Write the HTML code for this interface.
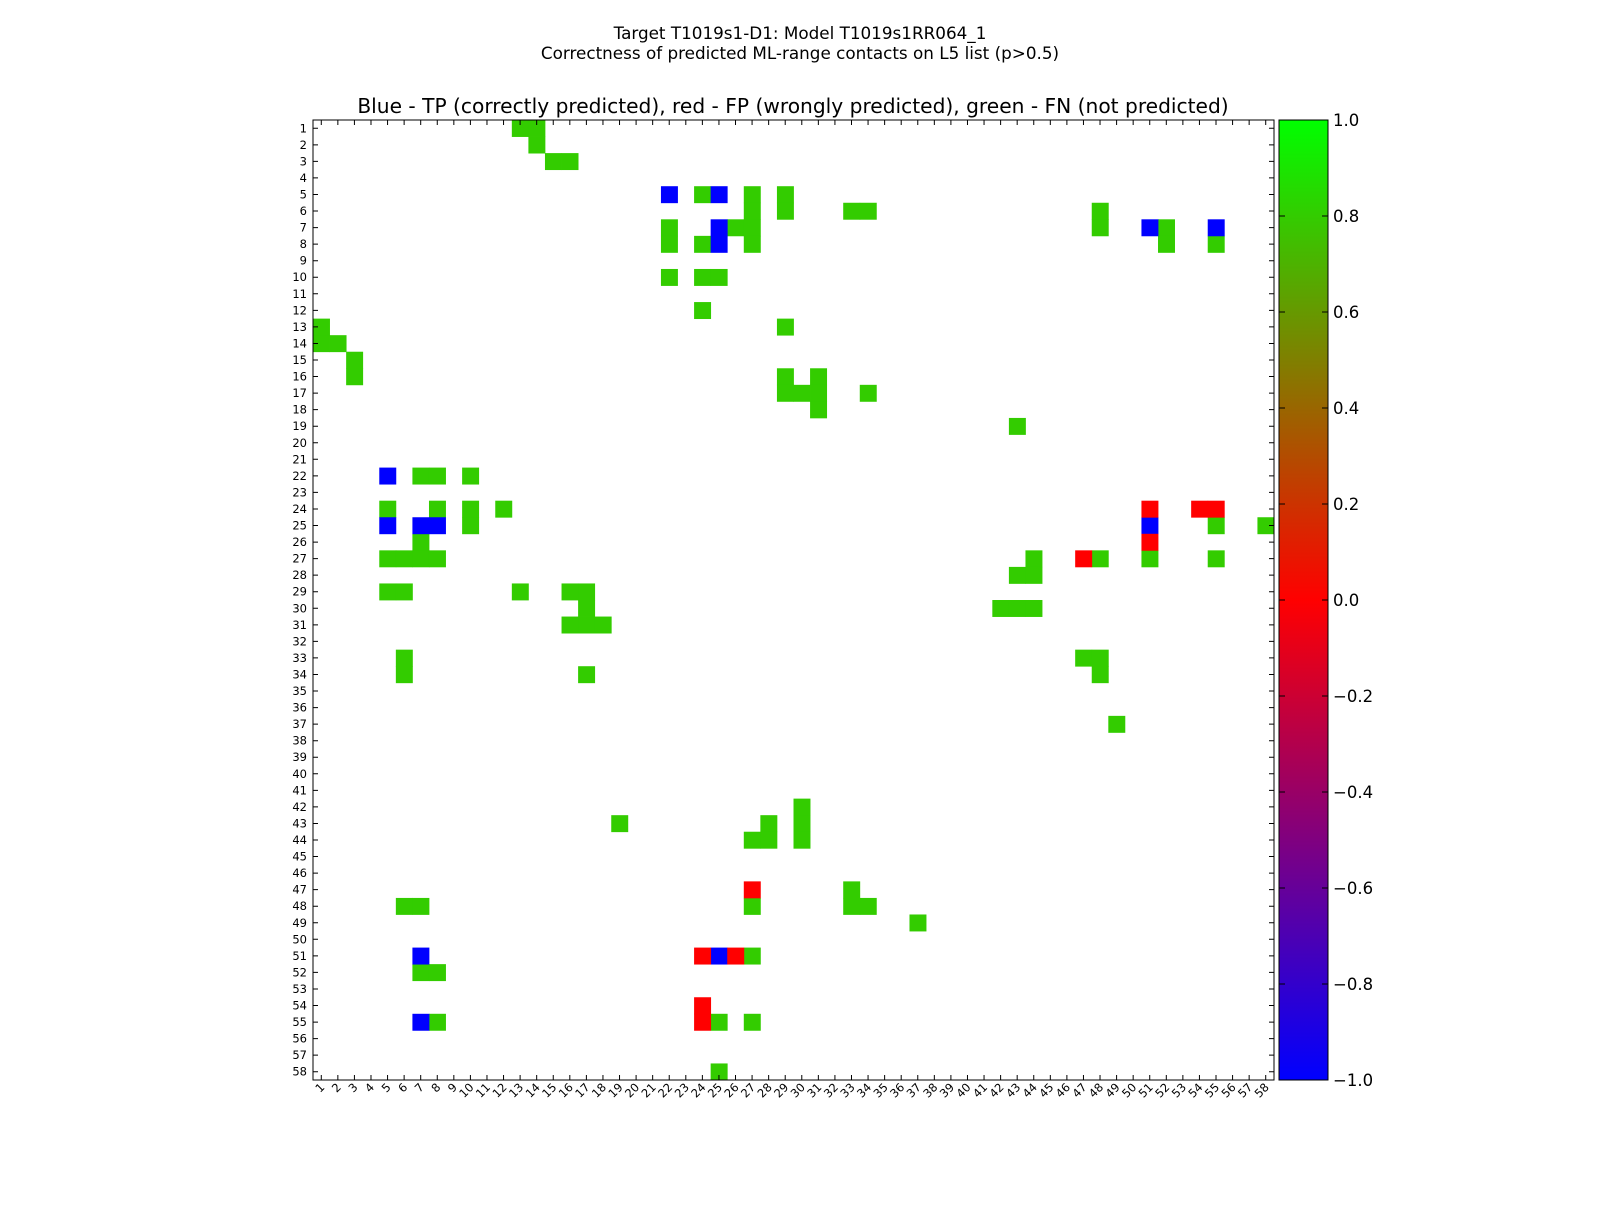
<!DOCTYPE html>
<html><head><meta charset="utf-8">
<style>
body{margin:0;background:#fff;}
svg text{font-family:"DejaVu Sans","Liberation Sans",sans-serif;}
</style></head>
<body>
<svg id="chart" width="1600" height="1200" xmlns="http://www.w3.org/2000/svg">
<defs>
<linearGradient id="cbg" x1="0" y1="1" x2="0" y2="0">
<stop offset="0" stop-color="#0000ff"/>
<stop offset="0.5" stop-color="#ff0000"/>
<stop offset="1" stop-color="#00ff00"/>
</linearGradient>
</defs>
<rect width="1600" height="1200" fill="#fff"/>
<text x="800" y="39" font-size="16.8" text-anchor="middle">Target T1019s1-D1: Model T1019s1RR064_1</text>
<text x="800" y="59" font-size="16.8" text-anchor="middle">Correctness of predicted ML-range contacts on L5 list (p&gt;0.5)</text>
<text x="793" y="113" font-size="20.2" text-anchor="middle">Blue - TP (correctly predicted), red - FP (wrongly predicted), green - FN (not predicted)</text>
<g id="cells"></g>
<g id="axes"></g>
<rect x="1279" y="120" width="49" height="960" fill="url(#cbg)" stroke="#000" stroke-width="1"/>
<g id="cbticks"></g>
</svg>
<script>
const N = 58;
const tpCells = [[5,22],[5,25],[7,25],[8,25],[7,51],[7,55],[22,5],[25,5],[25,7],[25,8],[25,51],[51,7],[51,25],[55,7]];
const fpCells = [[24,51],[26,51],[24,54],[24,55],[27,47],[47,27],[51,24],[51,26],[54,24],[55,24]];
const fnCells = [[1,13],[1,14],[2,14],[3,15],[3,16],[5,24],[5,27],[5,29],[6,27],[6,29],[6,33],[6,34],[6,48],
[7,22],[7,26],[7,27],[7,48],[7,52],[8,22],[8,24],[8,27],[8,52],[8,55],[10,22],[10,24],[10,25],[12,24],
[13,1],[13,29],[14,1],[14,2],[15,3],[16,3],[16,29],[16,31],[17,29],[17,30],[17,31],[17,34],[18,31],[19,43],
[22,7],[22,8],[22,10],[24,5],[24,8],[24,10],[24,12],[25,10],[25,55],[25,58],[26,7],
[27,5],[27,6],[27,7],[27,8],[27,44],[27,48],[27,51],[27,55],[28,43],[28,44],
[29,5],[29,6],[29,13],[29,16],[29,17],[30,17],[30,42],[30,43],[30,44],[31,16],[31,17],[31,18],
[33,6],[33,47],[33,48],[34,6],[34,17],[34,48],[37,49],[42,30],[43,19],[43,28],[43,30],[44,27],[44,28],[44,30],
[47,33],[48,6],[48,7],[48,27],[48,33],[48,34],[49,37],[51,27],[52,7],[52,8],[55,8],[55,25],[55,27],[58,25]];
const cbTicks = [1.0,0.8,0.6,0.4,0.2,0.0,-0.2,-0.4,-0.6,-0.8,-1.0];

const X0=313, X1=1274, Y0=120, Y1=1080;
const cw=(X1-X0)/N, ch=(Y1-Y0)/N;
const xs = c => X0+(c-1)*cw;
const ys = r => Y0+(r-1)*ch;
const cbY = v => Y0+(1-v)/2*(Y1-Y0);
function color(v){
  const t=(v+1)/2; let r,g,b;
  if(t<=0.5){r=t*2;g=0;b=1-t*2;} else {r=1-(t-0.5)*2;g=(t-0.5)*2;b=0;}
  return `rgb(${Math.round(r*255)},${Math.round(g*255)},${Math.round(b*255)})`;
}
const NS="http://www.w3.org/2000/svg";
const cells=document.getElementById('cells');
function addCells(arr,v,name){
  arr.forEach(([r,c])=>{
    const e=document.createElementNS(NS,'rect');
    e.setAttribute('x',xs(c));e.setAttribute('y',ys(r));
    e.setAttribute('width',cw+0.4);e.setAttribute('height',ch+0.4);
    e.setAttribute('fill',color(v));
    
    
    cells.appendChild(e);
  });
}
addCells(fnCells,0.8,'cell-fn');
addCells(tpCells,-1,'cell-tp');
addCells(fpCells,0,'cell-fp');

const axes=document.getElementById('axes');
const frame=document.createElementNS(NS,'rect');
frame.setAttribute('x',X0);frame.setAttribute('y',Y0);frame.setAttribute('width',X1-X0);frame.setAttribute('height',Y1-Y0);
frame.setAttribute('fill','none');frame.setAttribute('stroke','#000');


axes.appendChild(frame);
let tk='';
for(let i=1;i<=N;i++){
  const cx=xs(i)+cw/2, cy=ys(i)+ch/2;
  tk+=`M${X0} ${cy}h5M${X1} ${cy}h-5M${cx} ${Y0}v5M${cx} ${Y1}v-5`;
  const ty=document.createElementNS(NS,'text');
  ty.setAttribute('x',X0-6);ty.setAttribute('y',cy+4);ty.setAttribute('font-size','11.5');ty.setAttribute('text-anchor','end');
  ty.textContent=i;
  
  
  axes.appendChild(ty);
  const tx=document.createElementNS(NS,'text');
  tx.setAttribute('font-size','11.5');tx.setAttribute('text-anchor','end');
  tx.setAttribute('transform',`translate(${cx+4},${Y1+8}) rotate(-45)`);
  tx.textContent=i;
  
  
  axes.appendChild(tx);
}
const tp=document.createElementNS(NS,'path');
tp.setAttribute('d',tk);tp.setAttribute('stroke','#000');tp.setAttribute('fill','none');


axes.appendChild(tp);

const cb=document.getElementById('cbticks');
let cbp='';
cbTicks.forEach(v=>{
  const y=cbY(v);
  cbp+=`M1279 ${y}h6M1328 ${y}h-6`;
  const t=document.createElementNS(NS,'text');
  t.setAttribute('x',1333);t.setAttribute('y',y+6);t.setAttribute('font-size','16.5');
  t.textContent=(v<0?'\u2212':'')+Math.abs(v).toFixed(1);
  
  
  cb.appendChild(t);
});
const cbpath=document.createElementNS(NS,'path');
cbpath.setAttribute('d',cbp);cbpath.setAttribute('stroke','#000');


cb.appendChild(cbpath);
</script>
</body></html>
